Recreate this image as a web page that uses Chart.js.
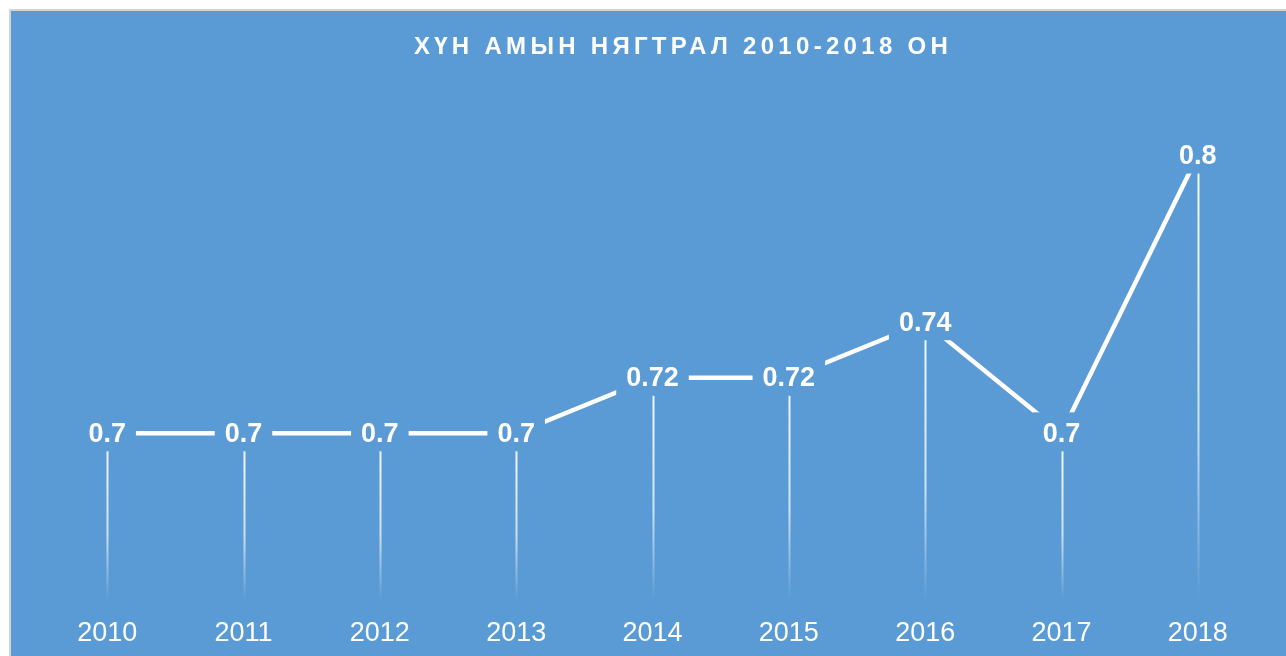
<!DOCTYPE html>
<html>
<head>
<meta charset="utf-8">
<script src="https://cdn.jsdelivr.net/npm/chart.js@4/dist/chart.umd.min.js"></script>
<style>
  html, body { margin: 0; padding: 0; background: #ffffff; overflow: hidden; }
  #frame {
    position: absolute; left: 9px; top: 9px; width: 1300px; height: 700px;
    background: #5b9bd5; border-top: 2px solid #d4d4d4; border-left: 2px solid #d4d4d4;
  }
  #wrap { position: absolute; left: 0; top: 0; width: 1286px; height: 656px; }
</style>
</head>
<body>
<div id="frame"></div>
<div id="wrap"><canvas id="chart"></canvas></div>
<script>
// ХҮН АМЫН НЯГТРАЛ 2010-2018 (хүн / км²)
const years = ['2010', '2011', '2012', '2013', '2014', '2015', '2016', '2017', '2018']
const density = [0.7, 0.7, 0.7, 0.7, 0.72, 0.72, 0.74, 0.7, 0.8]
const chartTitle = 'ХҮН АМЫН НЯГТРАЛ 2010-2018 ОН'

const BLUE = '#5b9bd5'
const FONT = '"Liberation Sans", Arial, sans-serif'

// гарчиг + босоо шугам + утгын шошго
const decor = {
  id: 'decor',
  beforeDatasetsDraw(chart) {
    const { ctx, chartArea } = chart
    const meta = chart.getDatasetMeta(0)
    ctx.save()
    meta.data.forEach((pt) => {
      const g = ctx.createLinearGradient(0, pt.y, 0, chartArea.bottom)
      g.addColorStop(0, 'rgba(255,255,255,0.95)')
      g.addColorStop(0.6, 'rgba(255,255,255,0.7)')
      g.addColorStop(1, 'rgba(255,255,255,0)')
      ctx.strokeStyle = g
      ctx.lineWidth = 2
      ctx.beginPath()
      ctx.moveTo(Math.round(pt.x) + 0.5, pt.y)
      ctx.lineTo(Math.round(pt.x) + 0.5, chartArea.bottom)
      ctx.stroke()
    })
    ctx.restore()
  },
  afterDatasetsDraw(chart) {
    const { ctx } = chart
    const meta = chart.getDatasetMeta(0)
    ctx.save()
    ctx.font = 'bold 27px ' + FONT
    ctx.textAlign = 'center'
    ctx.textBaseline = 'middle'
    meta.data.forEach((pt, i) => {
      const txt = String(density[i])
      const w = ctx.measureText(txt).width + 20
      ctx.fillStyle = BLUE
      ctx.fillRect(pt.x - w / 2, pt.y - 21, w, 39)
      ctx.fillStyle = '#ffffff'
      ctx.fillText(txt, pt.x, pt.y + 1)
    })

    // гарчиг
    ctx.font = 'bold 24px ' + FONT
    ctx.letterSpacing = '4.3px'
    ctx.fillStyle = '#ffffff'
    ctx.fillText(chartTitle, 683, 47)
    ctx.restore()
  }
}

new Chart(document.getElementById('chart'), {
  type: 'line',
  data: {
    labels: years,
    datasets: [{
      data: density,
      borderColor: '#ffffff',
      borderWidth: 4.5,
      pointRadius: 0,
      tension: 0,
      fill: false
    }]
  },
  options: {
    responsive: true,
    maintainAspectRatio: false,
    animation: false,
    layout: { padding: { left: 39, right: 20, top: 100, bottom: 11 } },
    plugins: { legend: { display: false }, title: { display: false }, tooltip: { enabled: false } },
    scales: {
      x: {
        offset: true,
        grid: { display: false, drawTicks: false },
        border: { display: false },
        ticks: { color: '#ffffff', padding: 17, font: { family: FONT, size: 27 } },
        afterFit(scale) { scale.height = 45 }
      },
      y: {
        display: false,
        min: 0.64,
        max: 0.82
      }
    }
  },
  plugins: [decor]
})
</script>
</body>
</html>
